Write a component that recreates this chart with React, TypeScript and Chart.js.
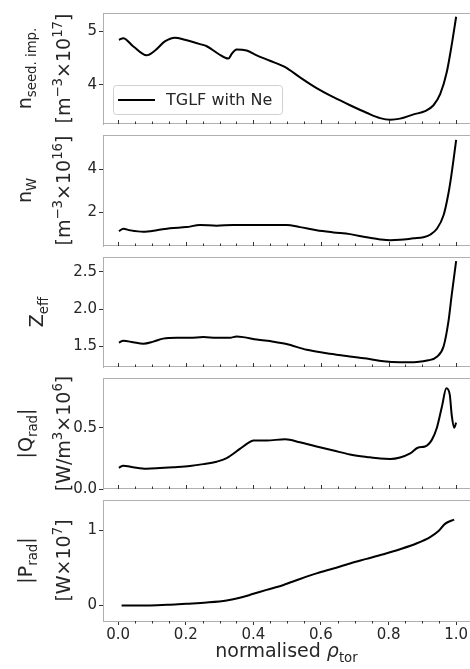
import React, { useEffect, useRef } from 'react';
import { Chart, registerables } from 'chart.js';
Chart.register(...registerables);

// ---------------- data ----------------
const X_MIN = -0.045;
const X_MAX = 1.041;
const X_TICKS = [0, 0.2, 0.4, 0.6, 0.8, 1.0];
const X_MINOR_TICKS = [0, 0.05, 0.1, 0.15, 0.2, 0.25, 0.3, 0.35, 0.4, 0.45, 0.5, 0.55, 0.6, 0.65, 0.7, 0.75, 0.8, 0.85, 0.9, 0.95, 1.0];
const LEGEND_LABEL = 'TGLF with Ne';

const NSEED_X = [0.002, 0.015, 0.044, 0.084, 0.109, 0.138, 0.168, 0.197, 0.242, 0.262, 0.296, 0.326, 0.336, 0.35, 0.38, 0.41, 0.449, 0.494, 0.538, 0.587, 0.637, 0.686, 0.735, 0.775, 0.805, 0.834, 0.874, 0.908, 0.933, 0.953, 0.972, 0.987, 1.0];
const NSEED_Y = [4.84, 4.87, 4.72, 4.55, 4.64, 4.81, 4.88, 4.84, 4.76, 4.72, 4.58, 4.49, 4.58, 4.66, 4.64, 4.55, 4.45, 4.33, 4.14, 3.94, 3.77, 3.62, 3.48, 3.38, 3.35, 3.37, 3.45, 3.51, 3.62, 3.83, 4.23, 4.75, 5.27];
const NSEED_TICKS = [4, 5];

const NW_X = [0.002, 0.015, 0.035, 0.074, 0.114, 0.153, 0.202, 0.242, 0.291, 0.34, 0.4, 0.449, 0.498, 0.538, 0.587, 0.637, 0.686, 0.735, 0.775, 0.805, 0.834, 0.874, 0.903, 0.923, 0.943, 0.963, 0.977, 0.987, 1.0];
const NW_Y = [1.1, 1.21, 1.14, 1.07, 1.14, 1.24, 1.29, 1.39, 1.36, 1.39, 1.39, 1.39, 1.39, 1.29, 1.14, 1.04, 0.96, 0.81, 0.71, 0.67, 0.69, 0.76, 0.81, 0.93, 1.21, 1.86, 2.86, 3.86, 5.4];
const NW_TICKS = [2, 4];

const ZEFF_X = [0.002, 0.015, 0.044, 0.074, 0.104, 0.133, 0.173, 0.212, 0.252, 0.291, 0.331, 0.35, 0.37, 0.41, 0.459, 0.498, 0.558, 0.617, 0.676, 0.735, 0.785, 0.834, 0.884, 0.918, 0.943, 0.963, 0.977, 0.987, 1.0];
const ZEFF_Y = [1.549, 1.573, 1.553, 1.533, 1.561, 1.602, 1.614, 1.614, 1.622, 1.614, 1.614, 1.63, 1.622, 1.59, 1.561, 1.529, 1.451, 1.406, 1.369, 1.333, 1.296, 1.284, 1.288, 1.31, 1.357, 1.5, 1.827, 2.194, 2.643];
const ZEFF_TICKS = [1.5, 2.0, 2.5];

const QRAD_X = [0.002, 0.015, 0.044, 0.084, 0.123, 0.163, 0.212, 0.252, 0.291, 0.321, 0.36, 0.385, 0.4, 0.439, 0.494, 0.538, 0.587, 0.637, 0.686, 0.735, 0.775, 0.805, 0.834, 0.864, 0.888, 0.908, 0.928, 0.943, 0.958, 0.971, 0.981, 0.987, 0.994, 1.0];
const QRAD_Y = [0.173, 0.19, 0.178, 0.166, 0.171, 0.178, 0.188, 0.203, 0.223, 0.252, 0.327, 0.376, 0.396, 0.396, 0.406, 0.381, 0.347, 0.314, 0.282, 0.262, 0.248, 0.245, 0.257, 0.29, 0.339, 0.347, 0.401, 0.5, 0.673, 0.822, 0.772, 0.6, 0.5, 0.542];
const QRAD_TICKS = [0.0, 0.5];

const PRAD_X = [0.01, 0.094, 0.153, 0.202, 0.262, 0.321, 0.36, 0.4, 0.439, 0.489, 0.538, 0.587, 0.637, 0.686, 0.735, 0.785, 0.834, 0.884, 0.923, 0.948, 0.967, 0.994];
const PRAD_Y = [0, 0, 0.009, 0.022, 0.039, 0.066, 0.101, 0.154, 0.206, 0.272, 0.351, 0.425, 0.491, 0.557, 0.618, 0.68, 0.746, 0.825, 0.908, 0.987, 1.083, 1.14];
const PRAD_TICKS = [0, 1];

// ---------------- style / layout (page coordinates) ----------------
const FAM = "'DejaVu Sans', sans-serif";
const TEXT = '#262626';
const SPINE = '#b0b0b0';
const TICKC = '#333333';
const PAGE_W = 470;
const PAGE_H = 669;
const AXIS_LEFT = 103;
const PAD = 10;

type Seg = { t: string; k?: 'sub' | 'sup' | 'it' };

interface PanelCfg {
  xs: number[];
  ys: number[];
  ticks: number[];
  dec: number;
  min: number;
  max: number;
  top: number;
  bottom: number;
  labels: { segs: Seg[]; base: number }[];
  legend?: boolean;
  last?: boolean;
}

const PANELS: PanelCfg[] = [
  {
    xs: NSEED_X, ys: NSEED_Y, ticks: NSEED_TICKS, dec: 0, min: 3.27, max: 5.34, top: 12, bottom: 134,
    labels: [
      { segs: [{ t: 'n' }, { t: 'seed. imp.', k: 'sub' }], base: 31 },
      { segs: [{ t: '[m' }, { t: '−3', k: 'sup' }, { t: '×10' }, { t: '17', k: 'sup' }, { t: ']' }], base: 70 },
    ],
    legend: true,
  },
  {
    xs: NW_X, ys: NW_Y, ticks: NW_TICKS, dec: 0, min: 0.4, max: 5.63, top: 134, bottom: 256,
    labels: [
      { segs: [{ t: 'n' }, { t: 'W', k: 'sub' }], base: 31 },
      { segs: [{ t: '[m' }, { t: '−3', k: 'sup' }, { t: '×10' }, { t: '16', k: 'sup' }, { t: ']' }], base: 70 },
    ],
  },
  {
    xs: ZEFF_X, ys: ZEFF_Y, ticks: ZEFF_TICKS, dec: 1, min: 1.22, max: 2.7, top: 256, bottom: 377,
    labels: [{ segs: [{ t: 'Z' }, { t: 'eff', k: 'sub' }], base: 43 }],
  },
  {
    xs: QRAD_X, ys: QRAD_Y, ticks: QRAD_TICKS, dec: 1, min: 0, max: 0.906, top: 377, bottom: 499,
    labels: [
      { segs: [{ t: '|Q' }, { t: 'rad', k: 'sub' }, { t: '|' }], base: 32 },
      { segs: [{ t: '[W/m' }, { t: '3', k: 'sup' }, { t: '×10' }, { t: '6', k: 'sup' }, { t: ']' }], base: 70 },
    ],
  },
  {
    xs: PRAD_X, ys: PRAD_Y, ticks: PRAD_TICKS, dec: 0, min: -0.207, max: 1.4, top: 499, bottom: 621,
    labels: [
      { segs: [{ t: '|P' }, { t: 'rad', k: 'sub' }, { t: '|' }], base: 32 },
      { segs: [{ t: '[W×10' }, { t: '7', k: 'sup' }, { t: ']' }], base: 70 },
    ],
    last: true,
  },
];

function drawRich(ctx: CanvasRenderingContext2D, segs: Seg[], cx: number, cy: number, size: number, rotate: boolean) {
  const sub = size * 0.7;
  const fontFor = (k?: string) =>
    k === 'sub' || k === 'sup' ? `${sub}px ${FAM}` : k === 'it' ? `italic ${size}px ${FAM}` : `${size}px ${FAM}`;
  let total = 0;
  const widths = segs.map((s) => {
    ctx.font = fontFor(s.k);
    const w = ctx.measureText(s.t).width;
    total += w;
    return w;
  });
  ctx.save();
  ctx.translate(cx, cy);
  if (rotate) ctx.rotate(-Math.PI / 2);
  ctx.fillStyle = TEXT;
  ctx.textAlign = 'left';
  ctx.textBaseline = 'alphabetic';
  let x = -total / 2;
  segs.forEach((s, i) => {
    ctx.font = fontFor(s.k);
    const dy = s.k === 'sub' ? size * 0.28 : s.k === 'sup' ? -size * 0.42 : 0;
    ctx.fillText(s.t, x, dy);
    x += widths[i];
  });
  ctx.restore();
}

function Panel({ cfg }: { cfg: PanelCfg }) {
  const ref = useRef<HTMLCanvasElement>(null);
  const canvasTop = cfg.top - PAD;
  const height = cfg.last ? PAGE_H - canvasTop : cfg.bottom - cfg.top + 2 * PAD;

  useEffect(() => {
    if (!ref.current) return;
    const points = cfg.xs.map((x, i) => ({ x, y: cfg.ys[i] }));
    const deco = {
      id: 'deco',
      afterDraw(chart: any) {
        const { ctx, chartArea: ca, scales } = chart;
        const xs = scales.x;
        ctx.save();
        ctx.strokeStyle = SPINE;
        ctx.lineWidth = 1;
        ctx.beginPath();
        ctx.moveTo(ca.left, Math.round(ca.top) + 0.5);
        ctx.lineTo(ca.right, Math.round(ca.top) + 0.5);
        if (!cfg.last) {
          ctx.moveTo(ca.left, Math.round(ca.bottom) - 0.5);
          ctx.lineTo(ca.right, Math.round(ca.bottom) - 0.5);
        }
        ctx.stroke();
        ctx.strokeStyle = TICKC;
        ctx.beginPath();
        X_MINOR_TICKS.forEach((v) => {
          const px = Math.round(xs.getPixelForValue(v)) + 0.5;
          const major = X_TICKS.some((t) => Math.abs(t - v) < 1e-6);
          if (cfg.last) {
            if (major) return;
            ctx.moveTo(px, ca.bottom);
            ctx.lineTo(px, ca.bottom + 2.5);
          } else {
            const len = major ? 4 : 2.5;
            ctx.moveTo(px, ca.bottom);
            ctx.lineTo(px, ca.bottom - len);
          }
        });
        ctx.stroke();
        const cy = (ca.top + ca.bottom) / 2;
        cfg.labels.forEach((l) => drawRich(ctx, l.segs, l.base, cy, 19, true));
        if (cfg.legend) {
          const l = ca.left + 10;
          const t = ca.bottom - 39;
          const w = 169;
          const h = 29;
          ctx.fillStyle = 'rgba(255,255,255,0.8)';
          ctx.strokeStyle = '#d0d0d0';
          ctx.lineWidth = 1;
          ctx.beginPath();
          (ctx as any).roundRect(l + 0.5, t + 0.5, w, h, 3);
          ctx.fill();
          ctx.stroke();
          ctx.strokeStyle = '#000';
          ctx.lineWidth = 2.2;
          ctx.beginPath();
          ctx.moveTo(l + 5, t + 15);
          ctx.lineTo(l + 42, t + 15);
          ctx.stroke();
          ctx.fillStyle = TEXT;
          ctx.font = `16px ${FAM}`;
          ctx.textBaseline = 'middle';
          ctx.textAlign = 'left';
          ctx.fillText(LEGEND_LABEL, l + 53, t + 16);
        }
        if (cfg.last) {
          drawRich(
            ctx,
            [{ t: 'normalised ' }, { t: 'ρ', k: 'it' }, { t: 'tor', k: 'sub' }],
            (ca.left + ca.right) / 2,
            ca.bottom + 36,
            19,
            false
          );
        }
        ctx.restore();
      },
    };

    const chart = new Chart(ref.current, {
      type: 'line',
      data: {
        datasets: [
          {
            label: LEGEND_LABEL,
            data: points,
            borderColor: '#000000',
            borderWidth: 2,
            pointRadius: 0,
            fill: false,
            cubicInterpolationMode: 'monotone',
          },
        ],
      },
      options: {
        responsive: false,
        maintainAspectRatio: false,
        animation: false,
        layout: { padding: { top: PAD, bottom: cfg.last ? 0 : PAD, left: 0, right: 0 } },
        plugins: { legend: { display: false }, tooltip: { enabled: false } },
        scales: {
          x: {
            type: 'linear',
            display: !!cfg.last,
            min: X_MIN,
            max: X_MAX,
            afterBuildTicks: (s: any) => {
              s.ticks = X_TICKS.map((v) => ({ value: v }));
            },
            afterFit: (s: any) => {
              s.height = height - PAD - (cfg.bottom - cfg.top);
              s.paddingLeft = 0;
              s.paddingRight = 0;
            },
            ticks: {
              font: { family: FAM, size: 15 },
              color: TEXT,
              padding: 1,
              maxRotation: 0,
              autoSkip: false,
              callback: (v: any) => Number(v).toFixed(1),
            },
            grid: { display: true, drawOnChartArea: false, drawTicks: true, tickLength: 4, color: TICKC },
            border: { display: true, color: SPINE, width: 1 },
          },
          y: {
            type: 'linear',
            min: cfg.min,
            max: cfg.max,
            afterBuildTicks: (s: any) => {
              s.ticks = cfg.ticks.map((v) => ({ value: v }));
            },
            afterFit: (s: any) => {
              s.width = AXIS_LEFT;
            },
            ticks: {
              font: { family: FAM, size: 15 },
              color: TEXT,
              padding: 2,
              autoSkip: false,
              callback: (v: any) => Number(v).toFixed(cfg.dec),
            },
            grid: { display: true, drawOnChartArea: false, drawTicks: true, tickLength: 4, color: TICKC },
            border: { display: true, color: SPINE, width: 1 },
          },
        },
      },
      plugins: [deco],
    } as any);
    return () => chart.destroy();
  }, []);

  return (
    <canvas
      ref={ref}
      width={PAGE_W}
      height={height}
      style={{ position: 'absolute', left: 0, top: canvasTop, width: PAGE_W, height, display: 'block' }}
    />
  );
}

export default function App() {
  useEffect(() => {
    document.documentElement.style.overflow = 'hidden';
    document.body.style.margin = '0';
    const root = document.getElementById('root');
    if (root) root.style.width = PAGE_W + 'px';
  }, []);
  return (
    <div style={{ position: 'relative', width: PAGE_W, height: PAGE_H, margin: 0, background: '#fff' }}>
      {PANELS.map((p, i) => (
        <Panel key={i} cfg={p} />
      ))}
    </div>
  );
}
